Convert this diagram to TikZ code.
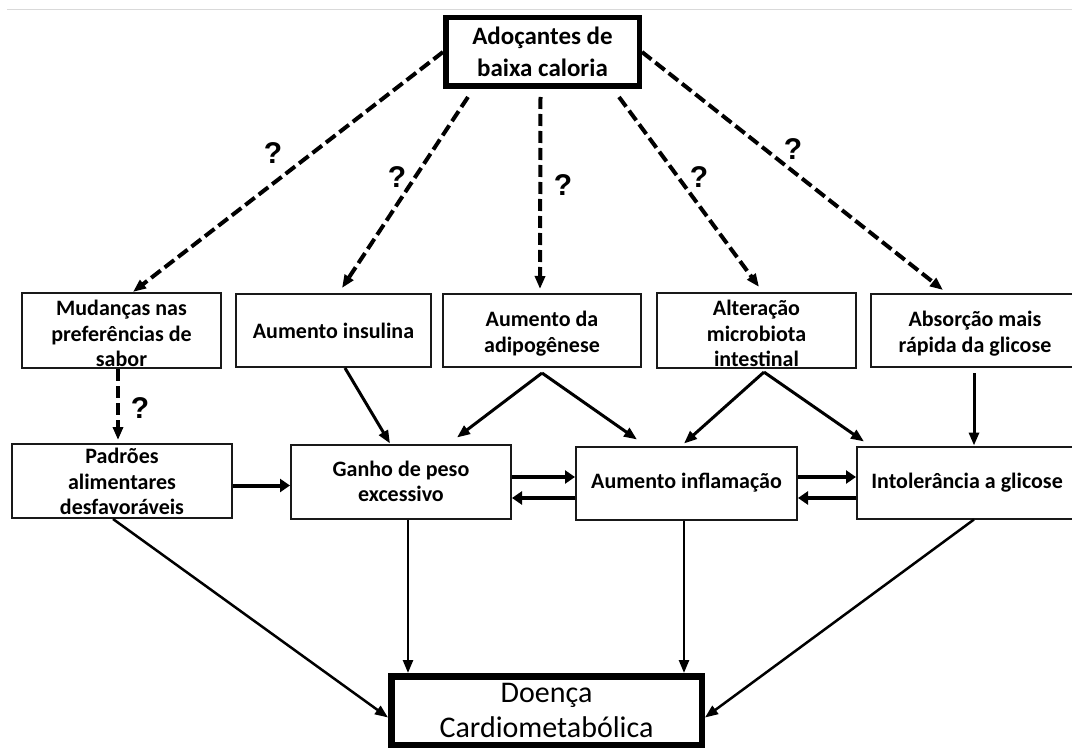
\documentclass[tikz,border=0pt]{standalone}
\usepackage{fontspec}
\setmainfont{Carlito}
\newfontfamily\qfont{Liberation Sans}
\usetikzlibrary{arrows.meta,calc}
\newcommand\tp[1][22pt]{\rule{0pt}{#1}}
\begin{document}
\begin{tikzpicture}[x=1pt,y=-1pt,
  box/.style={draw=black!90, line width=2pt, fill=white, align=center, inner sep=1pt,
    font=\bfseries\fontsize{22}{25.5}\selectfont, minimum height=73pt},
  bigbox/.style={draw=black, fill=white, align=center, inner sep=1pt},
  qmark/.style={font=\qfont\bfseries\fontsize{30}{30}\selectfont, inner sep=0pt},
  tip/.style={-{Triangle[length=13pt,width=10pt]}},
  dasharr/.style={tip, line width=4pt, dash pattern=on 12pt off 5pt},
  arr/.style={tip, line width=3pt},
  harr/.style={-{Triangle[length=10pt,width=13pt]}, line width=4pt},
  darr/.style={tip, line width=2.5pt}
]
\useasboundingbox (0,0) rectangle (1072,749);
\fill[white] (0,0) rectangle (1072,749);
\draw[black!15, line width=1pt] (7,10) -- (1072,10);

% top node
\node[bigbox, line width=5.5pt, minimum width=193.5pt, minimum height=68.5pt,
  font=\bfseries\fontsize{25}{32}\selectfont] (top) at (542.5,52) {Adoçantes de\\baixa caloria};

% row 1
\node[box, minimum width=199pt] (mud) at (121.5,330.5) {\tp Mudanças nas\\preferências de\\sabor};
\node[box, minimum width=195pt] (ins) at (333.5,330.5) {Aumento insulina};
\node[box, minimum width=198pt] (adi) at (542,330.5) {\tp Aumento da\\adipogênese};
\node[box, minimum width=199pt] (mic) at (756.5,330.5) {\tp Alteração\\microbiota\\intestinal};
\node[box, minimum width=208pt] (abs) at (975,330.5) {\tp Absorção mais\\rápida da glicose};

% row 2
\node[box, minimum width=220pt, minimum height=74pt] (pad) at (122,481) {\tp[17pt]Padrões\\alimentares\\desfavoráveis};
\node[box, minimum width=220pt, minimum height=74pt] (gan) at (401,481.5) {Ganho de peso\\excessivo};
\node[box, minimum width=221pt, minimum height=73pt] (inf) at (686.5,483) {Aumento inflamação};
\node[box, minimum width=220pt, minimum height=72pt] (int) at (967,482.5) {Intolerância a glicose};

% bottom node
\node[bigbox, line width=6.5pt, minimum width=310.5pt, minimum height=68.5pt,
  font=\fontsize{30}{35}\selectfont] (doe) at (546.5,710.5) {Doença\\Cardiometabólica};

% dashed arrows from top
\draw[dasharr] (top.west) -- ([xshift=11.5pt]mud.north);
\draw[dasharr] ([xshift=-74.5pt,yshift=-8pt]top.south) -- ([xshift=8.5pt,yshift=5pt]ins.north);
\draw[dasharr] ([xshift=-2pt,yshift=-8pt]top.south) -- ([xshift=-2pt,yshift=4pt]adi.north);
\draw[dasharr] ([xshift=76.5pt,yshift=-8pt]top.south) -- ([xshift=2.5pt,yshift=5pt]mic.north);
\draw[dasharr] (top.east) -- ([xshift=-32pt,yshift=3pt]abs.north);
\draw[dasharr] ([xshift=-3.5pt]mud.south) -- ([xshift=-4pt,yshift=3pt]pad.north);

\node[qmark] (q1) at (273,153) {?};
\node[qmark] (q2) at (397,177) {?};
\node[qmark] (q3) at (563,185) {?};
\node[qmark] (q4) at (699,177) {?};
\node[qmark] (q5) at (793,149) {?};
\node[qmark] (q6) at (140,408) {?};

% solid arrows row1 -> row2
\draw[arr] ([xshift=11.5pt]ins.south) -- ([xshift=-11pt]gan.north);
\draw[arr] ([yshift=-5pt]adi.south) -- ([xshift=56pt,yshift=6pt]gan.north);
\draw[arr] ([yshift=-5pt]adi.south) -- ([xshift=-49.5pt,yshift=6pt]inf.north);
\draw[arr] ([xshift=7.5pt,yshift=-3pt]mic.south) -- ([xshift=-2.5pt,yshift=2pt]inf.north);
\draw[arr] ([xshift=7.5pt,yshift=-3pt]mic.south) -- ([xshift=8pt,yshift=4pt]int.north west);
\draw[arr] ([xshift=-1pt,yshift=-5pt]abs.south) -- ([xshift=-1pt]abs.south |- int.north);

% horizontal arrows
\draw[harr] ([yshift=-4.5pt]pad.east) -- ([yshift=-4.5pt]pad.east -| gan.west);
\draw[harr] ([yshift=4.5pt]gan.east) -- ([yshift=4.5pt]gan.east -| inf.west);
\draw[harr] ([yshift=-16.5pt]gan.east -| inf.west) -- ([yshift=-16.5pt]gan.east);
\draw[harr] ([yshift=4.5pt]gan.east -| inf.east) -- ([yshift=4.5pt]gan.east -| int.west);
\draw[harr] ([yshift=-16.5pt]gan.east -| int.west) -- ([yshift=-16.5pt]gan.east -| inf.east);

% arrows to bottom
\draw[darr] ([xshift=-9pt]pad.south) -- ([yshift=-7pt]doe.west);
\draw[darr] ([xshift=7pt]gan.south) -- ([xshift=7pt]gan.south |- doe.north);
\draw[darr] ([xshift=-2.5pt]inf.south) -- ([xshift=-2.5pt]inf.south |- doe.north);
\draw[darr] ([xshift=7pt]int.south) -- ([yshift=-7pt]doe.east);
\end{tikzpicture}
\end{document}
